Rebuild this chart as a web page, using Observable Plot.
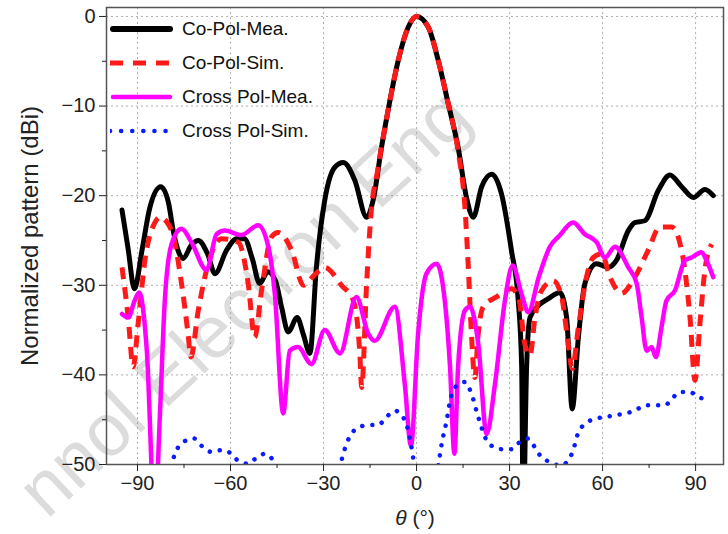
<!DOCTYPE html>
<html><head><meta charset="utf-8">
<script src="https://cdn.jsdelivr.net/npm/d3@7"></script>
<script src="https://cdn.jsdelivr.net/npm/@observablehq/plot@0.6"></script>
<style>
body{margin:0;background:#fff;font-family:"Liberation Sans",Arial,sans-serif;}
#wrap{position:relative;width:728px;height:534px;overflow:hidden;background:#fff;}
#wm{position:absolute;left:0;top:0;}
#chart{position:absolute;left:0;top:0;}
#legend{position:absolute;left:110px;top:12px;}
.row{height:34px;display:flex;align-items:center;font-size:19px;color:#111;white-space:nowrap;}
.row svg{margin-right:9px;flex:none;}
</style></head><body>
<div id="wrap">
<svg id="wm" width="728" height="534"><text x="47" y="520" transform="rotate(-43 47 520)" font-size="74" fill="#dcdcdc" font-family="Liberation Sans, Arial, sans-serif">nnol Electron Eng</text></svg>
<div id="chart"></div>
<div id="legend"></div>
</div>
<script>
// ---- data (theta in degrees, normalized pattern in dB) ----
const seriesNames = ["Co-Pol-Mea.", "Co-Pol-Sim.", "Cross Pol-Mea.", "Cross Pol-Sim."];
const thetaTicks = [-90, -60, -30, 0, 30, 60, 90];
const thetaMinorTicks = [-75, -45, -15, 15, 45, 75];
const dbTicks = [0, -10, -20, -30, -40, -50];
const dbMinorTicks = [-5, -15, -25, -35, -45];

const coPolMeaTheta = [-95,-93,-91,-88.5,-86,-82.5,-80,-78.5,-75.3,-72.6,-70.4,-67.4,-65,-61.3,-58,-55.5,-53,-50.6,-48,-45.5,-43.5,-41.4,-38.5,-36.5,-34.4,-32.3,-29.6,-26.3,-23.6,-19.9,-16.1,-14,-11.3,-8.6,-5.9,-2.7,0,3.8,7,10.2,13.4,16.1,18.3,21,24.2,27.4,30.6,32.8,33.9,34.4,35.5,36.6,39.2,42.5,46.2,48.4,50.2,52.2,54.3,58.1,61.8,64.5,68.3,70.4,73.6,78,81.7,85.5,89.3,93,95.7];
const coPolMeaDb = [-21.6,-26,-30.4,-26,-21.3,-19.0,-20.8,-23.9,-27.0,-25.5,-25.0,-26.5,-28.7,-26.1,-24.8,-24.8,-27,-29.8,-28.5,-29.5,-32.5,-35.2,-33.6,-35.5,-37.6,-28,-20.5,-16.8,-16.3,-18.3,-22.4,-20.5,-14.6,-9.4,-4.9,-1.2,0,-1.2,-4.9,-9.7,-14.6,-20.2,-22.4,-19,-17.6,-19.8,-26.1,-31.7,-39,-56,-39,-33.6,-32.3,-31.5,-30.8,-33.6,-43.8,-35.8,-29.8,-27.6,-28,-27.2,-23.9,-23,-22.8,-19.4,-17.7,-19,-20.2,-19.3,-20];

const coPolSimTheta = [-95,-93,-91.4,-89.8,-87.6,-84.4,-82.8,-79,-75.8,-73.7,-72.8,-70.4,-67.2,-62.9,-57.5,-54.3,-52.2,-50,-46.8,-44.6,-40.3,-36.5,-32.8,-29.6,-24.2,-20.4,-18.3,-17.7,-16.1,-15,-14.5,-12.9,-11.3,-8.6,-5.9,-2.7,0,3.8,7,10.2,13.4,15.6,16.7,17.7,18.8,19.9,21.5,25.8,30.6,33,34.9,36.6,38.2,40.3,44.1,46.8,48.9,50.2,52.2,54.8,57,59.7,62.4,66.1,70.4,74.7,78.5,82.3,85.5,88.2,89.8,91.4,93,95.2];
const coPolSimDb = [-28,-33.6,-39.1,-34.3,-27.2,-23,-22.4,-23.9,-29.8,-35.4,-38,-32.8,-27.6,-24.8,-25.2,-29.8,-35.8,-30.6,-24.6,-24.1,-26.1,-30,-28.8,-28,-30,-31.7,-37.6,-41.4,-29.8,-23.5,-21.3,-17.9,-14.6,-9.4,-4.9,-1.2,0,-1.2,-4.9,-9.7,-15,-21.3,-28,-35.4,-40.3,-35.4,-32.4,-31.3,-30.4,-31.5,-36.5,-37.8,-33.6,-30.6,-29.5,-31.3,-36.5,-39.3,-34.7,-29.1,-26.9,-26.5,-29.1,-30.9,-29.1,-26.1,-23.5,-23.5,-26.1,-33.6,-40.6,-34.3,-28.3,-25.4];

const crossPolMeaTheta = [-95,-93,-90.9,-89.5,-87,-84.4,-82.8,-81.2,-79,-75.8,-72.6,-67.7,-64.5,-61.8,-56.5,-51.1,-47.8,-45.7,-43,-40.9,-38.2,-33.9,-29.6,-24.7,-19.4,-15.6,-13.5,-7,-3.8,-1.8,0.5,3.2,6.5,9.1,10.8,12.2,13.4,15.6,17.2,19.9,22.6,25.3,28.5,31,33.9,36,39.5,43,46,50.5,54.3,58.1,60.8,64,68.3,71,72.6,74.2,75.8,77.2,79,80.6,83.3,86.6,88.7,91.9,93.5,95.7];
const crossPolMeaDb = [-33.2,-33.6,-31.7,-30.8,-37.3,-56,-44.7,-31.7,-25.4,-23.7,-25.2,-28.3,-24.3,-23.9,-24.4,-23.3,-25.7,-31,-44.3,-37.3,-36.9,-38.8,-35,-37.6,-31.3,-35.4,-36.2,-32.4,-41,-47.9,-35.4,-28.7,-27.6,-31.7,-39.1,-48.8,-39.1,-32.8,-32.4,-36.5,-46.6,-41,-31.7,-27.8,-31,-33,-29,-25.7,-24.5,-23,-24.3,-25.2,-26.9,-25.7,-28,-29.8,-33.6,-37.3,-36.9,-38,-34.7,-31.7,-30.6,-27.2,-26.9,-26.3,-27.2,-29.1];

const crossPolSimTheta = [-95,-85,-80,-78.5,-75.3,-71.7,-69.4,-66.1,-62.9,-59.7,-57.5,-54.3,-52.2,-48.9,-46.2,-44.5,-40,-30,-26,-24.7,-22.6,-19.4,-15.6,-12.4,-9.7,-7,-4.8,-2.7,-1.1,0,4,6,7,8.1,9.7,10.8,12.4,15.6,17.7,19.9,22.6,25.3,28,30.6,33.3,36,38.2,40.3,43,46.2,48.9,50.5,52.2,54.3,57.5,60.8,64,67.2,70.4,73.6,76.9,80.1,82.3,84.9,88.2,90.9,94.1];
const crossPolSimDb = [-54,-54,-51.5,-49.4,-47.5,-47.1,-47.9,-48.6,-48.4,-48.8,-49.6,-49.9,-49.4,-48.8,-49.6,-51,-55,-55,-51.5,-50.1,-47.7,-46,-45.6,-45.6,-44.7,-44,-44.5,-46.2,-49.2,-52,-55,-52,-50.1,-47.7,-45.1,-42.9,-41.4,-40.8,-42.1,-44.7,-47.3,-48.1,-48.3,-48.3,-47.5,-47.1,-48.1,-49.2,-49.7,-50.1,-49.6,-48.4,-46.4,-45.5,-44.9,-44.7,-44.5,-44.3,-44,-43.4,-43.4,-43.4,-42.7,-41.9,-41.9,-42.5,-42.7];

// ---- styles ----
const styles = [
  {stroke: "#000000", strokeWidth: 5, strokeDasharray: null, strokeLinecap: "round"},
  {stroke: "#ff1a1a", strokeWidth: 5, strokeDasharray: "12,8", strokeLinecap: "butt"},
  {stroke: "#ff00ff", strokeWidth: 4.5, strokeDasharray: null, strokeLinecap: "round"},
  {stroke: "#0a1cff", strokeWidth: 4.5, strokeDasharray: "0.1,10", strokeLinecap: "round"}
];

const toRows = (th, db) => th.map((t, i) => ({theta: t, db: db[i]}));
const series = [
  toRows(coPolMeaTheta, coPolMeaDb),
  toRows(coPolSimTheta, coPolSimDb),
  toRows(crossPolMeaTheta, crossPolMeaDb),
  toRows(crossPolSimTheta, crossPolSimDb)
];

const lineMarks = series.map((rows, i) => Plot.line(rows, {
  x: "theta", y: "db", curve: "monotone-x", clip: true,
  stroke: styles[i].stroke, strokeWidth: styles[i].strokeWidth,
  strokeDasharray: styles[i].strokeDasharray || undefined,
  strokeLinecap: styles[i].strokeLinecap, strokeLinejoin: "round"
}));

const chart = Plot.plot({
  width: 728, height: 534,
  marginLeft: 106, marginRight: 5, marginTop: 7, marginBottom: 70,
  x: {domain: [-100, 99]},
  y: {domain: [-50, 1]},
  style: {fontFamily: "Liberation Sans, Arial, sans-serif", fontSize: "20px", color: "#222", background: "transparent"},
  marks: [
    Plot.gridX(thetaTicks, {stroke: "#9a9a9a", strokeOpacity: 0.8, strokeDasharray: "2,3"}),
    Plot.gridY(dbTicks, {stroke: "#9a9a9a", strokeOpacity: 0.8, strokeDasharray: "2,3"}),
    ...lineMarks,
    Plot.frame({stroke: "#555", strokeWidth: 1.5}),
    Plot.axisX(thetaTicks, {tickSize: 7, tickPadding: 4, label: "θ (°)", labelAnchor: "center", labelOffset: 60, labelArrow: false}),
    Plot.axisX(thetaMinorTicks, {tickSize: 4, tickFormat: () => "", label: null}),
    Plot.axisY(dbTicks, {tickSize: 7, tickPadding: 4, label: "Normalized pattern (dBi)", labelAnchor: "center", labelOffset: 86, labelArrow: false}),
    Plot.axisY(dbMinorTicks, {tickSize: 4, tickFormat: () => "", label: null})
  ]
});
document.getElementById("chart").append(chart);

// axis label styling
chart.querySelectorAll("text").forEach(t => {
  if (t.textContent === "θ (°)") {
    t.textContent = "";
    const a = document.createElementNS("http://www.w3.org/2000/svg", "tspan");
    a.setAttribute("font-style", "italic");
    a.textContent = "θ";
    const b = document.createElementNS("http://www.w3.org/2000/svg", "tspan");
    b.textContent = " (°)";
    t.append(a, b);
    t.setAttribute("font-size", "21");
  } else if (t.textContent === "Normalized pattern (dBi)") {
    t.setAttribute("font-size", "24");
  }
});

// legend
const legend = document.getElementById("legend");
seriesNames.forEach((name, i) => {
  const row = document.createElement("div");
  row.className = "row";
  const s = styles[i];
  row.innerHTML = `<svg width="63" height="12"><line x1="${s.strokeLinecap === 'round' && !s.strokeDasharray ? 3 : 0}" x2="${s.strokeLinecap === 'round' && !s.strokeDasharray ? 60 : 63}" y1="6" y2="6" stroke="${s.stroke}" stroke-width="${i === 0 ? 6 : s.strokeWidth}" ${s.strokeDasharray ? `stroke-dasharray="${i === 3 ? '0.1,11' : '13,10'}"` : ""} stroke-linecap="${s.strokeLinecap}"/></svg><span>${name}</span>`;
  legend.append(row);
});
</script>
</body></html>
